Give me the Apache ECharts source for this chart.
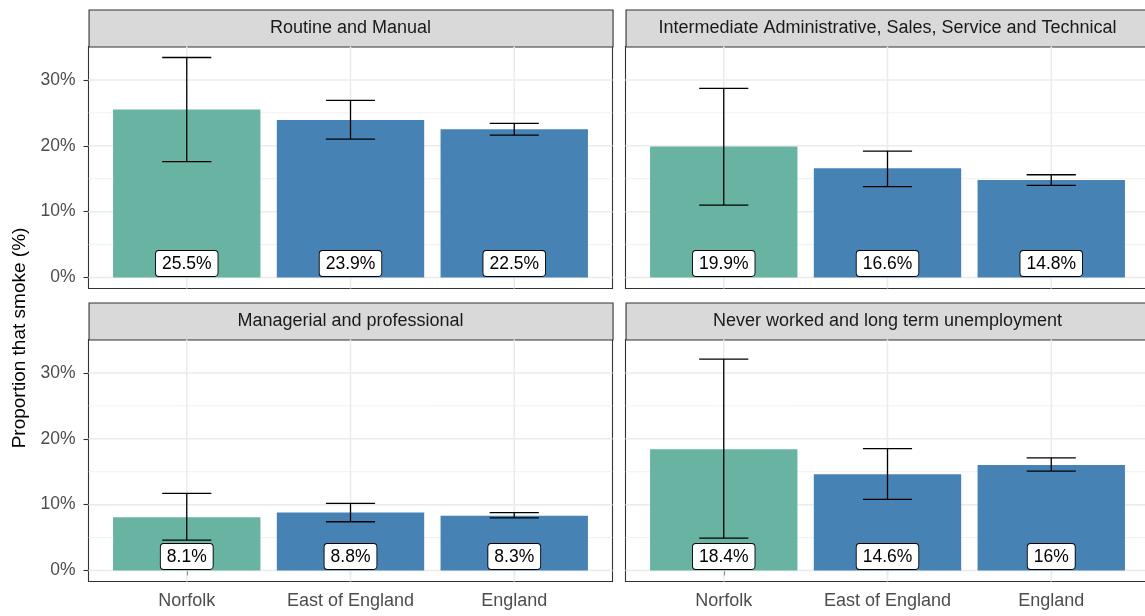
<!DOCTYPE html>
<html>
<head>
<meta charset="utf-8">
<script src="https://cdn.jsdelivr.net/npm/echarts@6/dist/echarts.min.js"></script>
<style>
html,body{margin:0;padding:0;background:#fff;}
#chart{width:1145px;height:616px;}
</style>
</head>
<body>
<div id="chart"></div>
<script>
// ---- data ----
const facets = [
  'Routine and Manual',
  'Intermediate Administrative, Sales, Service and Technical',
  'Managerial and professional',
  'Never worked and long term unemployment'
];
const areas = ['Norfolk', 'East of England', 'England'];

const routineValues = [25.5, 23.9, 22.5];
const routineLower  = [17.6, 21.0, 21.6];
const routineUpper  = [33.4, 26.9, 23.4];

const intermediateValues = [19.9, 16.6, 14.8];
const intermediateLower  = [11.0, 13.8, 14.0];
const intermediateUpper  = [28.7, 19.2, 15.6];

const managerialValues = [8.1, 8.8, 8.3];
const managerialLower  = [4.6, 7.4, 8.0];
const managerialUpper  = [11.7, 10.2, 8.8];

const neverValues = [18.4, 14.6, 16.0];
const neverLower  = [4.9, 10.8, 15.1];
const neverUpper  = [32.1, 18.5, 17.1];

const yTicks = [0, 10, 20, 30];
const yMinorTicks = [5, 15, 25];
const xTicks = [1, 2, 3];

// ---- layout / style ----
const panelValues = [routineValues, intermediateValues, managerialValues, neverValues];
const panelLower = [routineLower, intermediateLower, managerialLower, neverLower];
const panelUpper = [routineUpper, intermediateUpper, managerialUpper, neverUpper];

const barColors = ['#69b3a2', '#4682b4', '#4682b4'];
const FONT = "'Liberation Sans', Arial, Helvetica, sans-serif";
const xMin = 0.4, xMax = 3.6;
const allMax = Math.max(...[].concat(...panelUpper));
const yMin = -allMax * 0.05, yMax = allMax * 1.05;

const W = 524, H = 242;
const panels = [
  {left: 88.5, top: 46.5, stripTop: 9.5, bottomRow: false, leftCol: true},
  {left: 625.5, top: 46.5, stripTop: 9.5, bottomRow: false, leftCol: false},
  {left: 88.5, top: 339.5, stripTop: 302.5, bottomRow: true, leftCol: true},
  {left: 625.5, top: 339.5, stripTop: 302.5, bottomRow: true, leftCol: false}
];
const stripH = 37;

const grids = [], xAxes = [], yAxes = [], series = [], graphics = [];

// gridline data built from tick arrays
const gridData = [];
yTicks.forEach(v => gridData.push([v, 0]));
yMinorTicks.forEach(v => gridData.push([v, 1]));
xTicks.forEach(v => gridData.push([v, 2]));

function gridRender(params, api) {
  const v = api.value(0), kind = api.value(1);
  let p1, p2;
  if (kind === 2) { p1 = api.coord([v, yMin]); p2 = api.coord([v, yMax]); }
  else { p1 = api.coord([xMin, v]); p2 = api.coord([xMax, v]); }
  return {
    type: 'line',
    shape: {x1: p1[0], y1: p1[1], x2: p2[0], y2: p2[1]},
    style: {stroke: '#ebebeb', lineWidth: kind === 1 ? 0.7 : 1.5}
  };
}

function barRender(params, api) {
  const x = api.value(0), v = api.value(1), lo = api.value(2), hi = api.value(3);
  const i = params.dataIndex;
  const tl = api.coord([x - 0.45, v]);
  const br = api.coord([x + 0.45, 0]);
  const top = api.coord([x, hi]);
  const bot = api.coord([x, lo]);
  const capL = api.coord([x - 0.15, hi])[0];
  const capR = api.coord([x + 0.15, hi])[0];
  const zero = api.coord([x, 0]);
  const errStyle = {stroke: '#000', lineWidth: 1.3};
  return {
    type: 'group',
    children: [
      {type: 'rect', shape: {x: tl[0], y: tl[1], width: br[0] - tl[0], height: br[1] - tl[1]},
       style: {fill: barColors[i]}},
      {type: 'line', shape: {x1: top[0], y1: top[1], x2: bot[0], y2: bot[1]}, style: errStyle},
      {type: 'line', shape: {x1: capL, y1: top[1], x2: capR, y2: top[1]}, style: errStyle},
      {type: 'line', shape: {x1: capL, y1: bot[1], x2: capR, y2: bot[1]}, style: errStyle},
      {type: 'text', x: zero[0], y: zero[1] - 1.5,
       style: {text: v + '%', font: '17.5px ' + FONT, fill: '#000',
               align: 'center', verticalAlign: 'bottom',
               backgroundColor: '#fff', borderColor: '#000', borderWidth: 0.9,
               borderRadius: 3, padding: [4, 6, 3, 6]}}
    ]
  };
}

panels.forEach((p, k) => {
  grids.push({left: p.left, top: p.top, width: W, height: H, containLabel: false,
              outerBoundsMode: 'none',
              show: true, borderColor: '#333333', borderWidth: 1.1, backgroundColor: '#fff', z: 0});
  xAxes.push({
    type: 'value', gridIndex: k, min: xMin, max: xMax,
    axisLine: {show: false}, splitLine: {show: false},
    axisTick: {show: p.bottomRow, customValues: xTicks, length: 5, lineStyle: {color: '#333', width: 1.1}},
    axisLabel: {show: p.bottomRow, customValues: xTicks, margin: 11,
                formatter: v => areas[Math.round(v) - 1],
                color: '#4d4d4d', fontSize: 18, fontFamily: FONT}
  });
  yAxes.push({
    type: 'value', gridIndex: k, min: yMin, max: yMax,
    axisLine: {show: false}, splitLine: {show: false},
    axisTick: {show: p.leftCol, customValues: yTicks, length: 5, lineStyle: {color: '#333', width: 1.1}},
    axisLabel: {show: p.leftCol, customValues: yTicks, margin: 13,
                formatter: v => v + '%',
                color: '#4d4d4d', fontSize: 17.5, fontFamily: FONT}
  });
  series.push({
    type: 'custom', xAxisIndex: k, yAxisIndex: k, renderItem: gridRender,
    data: gridData, z: 1, silent: true, clip: false
  });
  const vals = panelValues[k], lo = panelLower[k], hi = panelUpper[k];
  series.push({
    type: 'custom', xAxisIndex: k, yAxisIndex: k, renderItem: barRender,
    data: xTicks.map((x, j) => [x, vals[j], lo[j], hi[j]]), z: 2, clip: false
  });
  graphics.push({
    type: 'rect', left: p.left, top: p.stripTop,
    shape: {x: 0, y: 0, width: W, height: stripH},
    style: {fill: '#d9d9d9', stroke: '#333333', lineWidth: 1.1}
  });
  graphics.push({
    type: 'text', x: p.left + W / 2, y: p.stripTop + stripH / 2 + 0.5,
    style: {text: facets[k], font: '18px ' + FONT, fill: '#1a1a1a', align: 'center', verticalAlign: 'middle'}
  });
});

graphics.push({
  type: 'text', x: 20, y: 338, rotation: Math.PI / 2,
  style: {text: 'Proportion that smoke (%)', font: '19px ' + FONT, fill: '#000', align: 'center', verticalAlign: 'middle'}
});

const chart = echarts.init(document.getElementById('chart'), null, {renderer: 'canvas'});
chart.setOption({
  animation: false,
  backgroundColor: '#fff',
  grid: grids,
  xAxis: xAxes,
  yAxis: yAxes,
  series: series,
  graphic: graphics
});
</script>
</body>
</html>
